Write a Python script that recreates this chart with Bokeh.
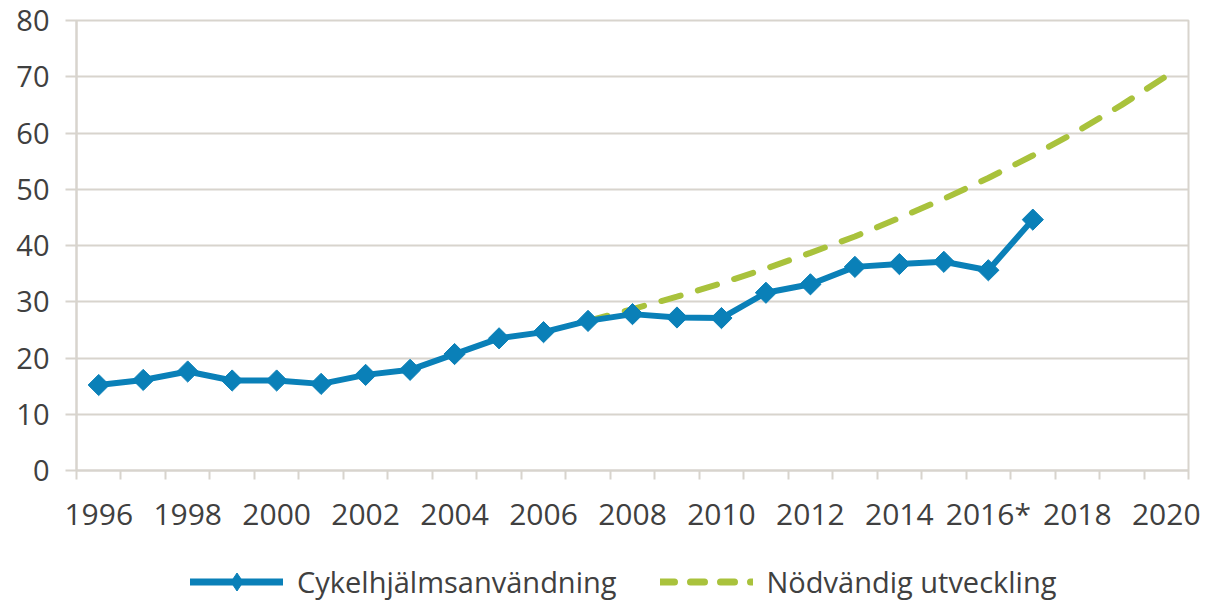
import numpy as np
from bokeh.plotting import figure
from bokeh.layouts import column
from bokeh.models import FixedTicker, Legend, LegendItem, Range1d
from bokeh.embed import file_html
from bokeh.resources import INLINE

years_blue = [1996, 1997, 1998, 1999, 2000, 2001, 2002, 2003, 2004, 2005, 2006,
              2007, 2008, 2009, 2010, 2011, 2012, 2013, 2014, 2015, 2016, 2017]
helmet_use = [15.2, 16.1, 17.6, 16.0, 16.0, 15.4, 17.0, 17.9, 20.7, 23.5, 24.6,
              26.6, 27.8, 27.2, 27.1, 31.6, 33.1, 36.2, 36.7, 37.1, 35.6, 44.6]

years_green = [2007, 2008, 2009, 2010, 2011, 2012, 2013, 2014, 2015, 2016, 2017,
               2018, 2019, 2020]
needed = [26.6, 28.7, 30.9, 33.3, 35.9, 38.7, 41.6, 44.9, 48.3, 52.0, 56.0,
          60.3, 65.0, 70.1]

label_years = [1996, 1998, 2000, 2002, 2004, 2006, 2008, 2010, 2012, 2014, 2016, 2018, 2020]
label_texts = ["1996", "1998", "2000", "2002", "2004", "2006", "2008", "2010",
               "2012", "2014", "2016*", "2018", "2020"]
y_ticks = [0, 10, 20, 30, 40, 50, 60, 70, 80]
series_names = ["Cykelhjälmsanvändning", "Nödvändig utveckling"]

BLUE = "#0a80b8"
GREEN = "#a9c23c"
GRID = "#d8d4cd"
TEXT = "#404040"
FONT = "Open Sans"

p = figure(width=1208, height=540, output_backend="svg", toolbar_location=None,
           x_range=Range1d(1995.5, 2020.5), y_range=Range1d(0, 80),
           min_border_left=76, min_border_right=20, min_border_top=20, min_border_bottom=70)

p.outline_line_color = GRID
p.outline_line_width = 2
p.background_fill_color = "white"
p.border_fill_color = "white"

xa = p.xaxis[0]
xa.ticker = FixedTicker(ticks=label_years, minor_ticks=[y + 0.5 for y in range(1995, 2021)])
xa.major_label_overrides = {y: t for y, t in zip(label_years, label_texts)}
xa.major_tick_line_color = None
xa.major_tick_out = 9
xa.major_tick_in = 0
xa.minor_tick_line_color = GRID
xa.minor_tick_line_width = 2
xa.minor_tick_out = 9
xa.minor_tick_in = 0
xa.axis_line_color = GRID
xa.axis_line_width = 2
xa.major_label_text_font = FONT
xa.major_label_text_font_size = "30px"
xa.major_label_text_color = TEXT
xa.major_label_standoff = 13

ya = p.yaxis[0]
ya.ticker = FixedTicker(ticks=y_ticks)
ya.major_tick_line_color = GRID
ya.major_tick_line_width = 2
ya.major_tick_out = 11
ya.major_tick_in = 0
ya.minor_tick_line_color = None
ya.axis_line_color = GRID
ya.axis_line_width = 2
ya.major_label_text_font = FONT
ya.major_label_text_font_size = "29px"
ya.major_label_text_color = TEXT
ya.major_label_standoff = 16

p.xgrid.grid_line_color = None
p.ygrid.grid_line_color = GRID
p.ygrid.grid_line_width = 2

p.line(years_green, needed, line_color=GREEN, line_width=6, line_dash="20 18",
       line_cap="round")
p.line(years_blue, helmet_use, line_color=BLUE, line_width=6, line_join="round")
p.scatter(years_blue, helmet_use, marker="square", angle=np.pi / 4, size=15,
          fill_color=BLUE, line_color=BLUE)

# legend in a separate strip below the chart
lf = figure(width=1208, height=62, output_backend="svg", toolbar_location=None,
            x_range=Range1d(0, 1), y_range=Range1d(0, 1),
            x_axis_type=None, y_axis_type=None,
            min_border_left=0, min_border_right=0, min_border_top=0, min_border_bottom=0)
lf.outline_line_color = None
lf.xgrid.grid_line_color = None
lf.ygrid.grid_line_color = None
lb = lf.line([-10, -9], [-10, -10], line_color=BLUE, line_width=7, line_cap="round")
lm = lf.scatter([-10], [-10], marker="diamond", size=20, fill_color=BLUE, line_color=BLUE)
lg = lf.line([-10, -9], [-10, -10], line_color=GREEN, line_width=7, line_dash="14 16",
             line_cap="round")

legend = Legend(items=[LegendItem(label=series_names[0], renderers=[lb, lm]),
                       LegendItem(label=series_names[1], renderers=[lg])],
                orientation="horizontal", location=(114, -2),
                label_text_font=FONT, label_text_font_size="29px",
                label_text_color=TEXT, glyph_width=93, glyph_height=45,
                label_height=24,
                label_standoff=14, spacing=43, border_line_color=None,
                background_fill_alpha=0, padding=0, margin=0)
lf.add_layout(legend, "center")

layout = column(p, lf, spacing=0)

open("out.html", "w").write(file_html(layout, INLINE))
